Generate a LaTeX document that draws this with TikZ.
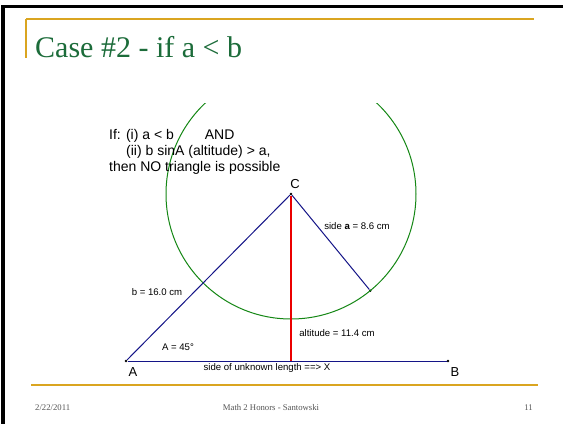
\documentclass[tikz,border=0pt]{standalone}
\usepackage{fontspec}
\setmainfont{Liberation Serif}
\setsansfont{Liberation Sans}
\usetikzlibrary{calc}
\definecolor{slidegold}{RGB}{218,165,32}
\definecolor{titlegreen}{RGB}{28,108,58}
\definecolor{sideblue}{RGB}{20,20,135}
\definecolor{circgreen}{RGB}{20,135,20}
\definecolor{altred}{RGB}{235,0,0}
\definecolor{footgray}{RGB}{85,85,85}
\begin{document}
\begin{tikzpicture}[
  x=1pt,y=-1pt,
  frame/.style={fill=black,draw=none},
  rule/.style={slidegold,line width=1.2pt},
  titletext/.style={font=\fontsize{30}{32}\selectfont,text=titlegreen,inner sep=0pt,anchor=base west},
  foot/.style={font=\fontsize{8.7}{10}\selectfont,text=footgray,inner sep=0pt},
  note/.style={font=\sffamily\fontsize{14}{16}\selectfont,align=left,inner sep=0pt,anchor=north west},
  pt/.style={circle,fill=black,inner sep=0pt,minimum size=2.6pt},
  side/.style={draw=sideblue,line width=1pt},
  altline/.style={draw=altred,line width=1.1pt},
  arcline/.style={draw=circgreen,line width=1pt},
  vname/.style={font=\sffamily\fontsize{13}{15}\selectfont,inner sep=0pt},
  lab/.style={font=\sffamily\fontsize{9.6}{11}\selectfont,inner sep=0pt}
]
\useasboundingbox (0,0) rectangle (563,424);
\fill[white] (0,0) rectangle (563,424);
% ================= slide frame =================
\fill[frame] (1,5) rectangle (563,8);
\fill[frame] (1,5) rectangle (5,424);
\draw[rule] (26,19) -- (534,19);
\draw[rule] (26,19) -- (26,58);
\draw[rule] (31,385) -- (538,385);
\node[titletext] (title) at (35,57) {Case \#2 - if a < b};
\node[foot,anchor=west] (date) at (35,408) {2/22/2011};
\node[foot] (course) at (271,408) {Math 2 Honors - Santowski};
\node[foot,anchor=east] (page) at (533,408) {11};
% ================= triangle =================
\node[pt] (A) at (126,361) {};
\node[pt] (B) at (448,361) {};
\node[pt] (C) at (291,194) {};
\coordinate (H) at (291,361);
\node[pt] (D) at (370.3,290.7) {};
\begin{scope}
\clip (0,103) rectangle (563,424);
\draw[arcline] (C) circle (125);
\end{scope}
\draw[side] (A) -- (B);
\draw[side] (A) -- (C);
\draw[side] (C) -- (D);
\draw[altline] (C) -- (H);
\node[vname] (Cname) at (295,184) {C};
\node[vname] (Aname) at (133,372) {A};
\node[vname] (Bname) at (455,372) {B};
\node[lab] (alab) at (357,226) {side \textbf{a} = 8.6 cm};
\node[lab] (blab) at (157,292) {b = 16.0 cm};
\node[lab] (hlab) at (337,333) {altitude = 11.4 cm};
\node[lab] (anglab) at (178,347) {A = 45°};
\node[lab] (xlab) at (267,368) {side of unknown length ==> X};
\node[note] (cond) at (109,129) {If: (i) a < b\hspace{31pt}AND\\
\hspace{17pt}(ii) b sinA (altitude) > a,\\
then NO triangle is possible};
\end{tikzpicture}
\end{document}
